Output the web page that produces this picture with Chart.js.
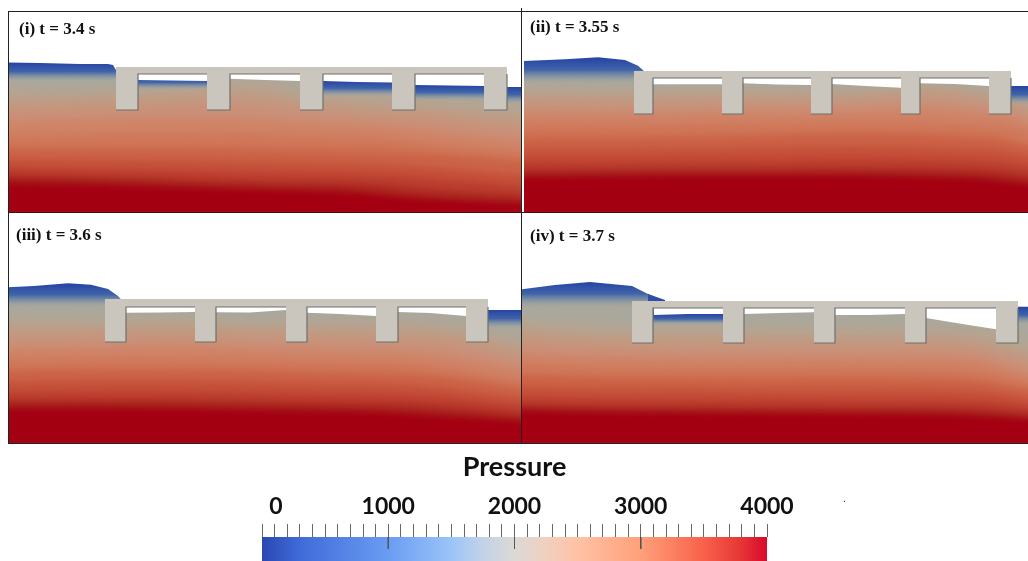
<!DOCTYPE html>
<html>
<head>
<meta charset="utf-8">
<script src="https://cdn.jsdelivr.net/npm/chart.js@4"></script>
<style>
  html, body { margin: 0; background: #fff; }
  body { position: relative; width: 1028px; height: 561px; overflow: hidden; }
  canvas, .rule, .label { position: absolute; }
  .rule { background: #222; }
  .label { font: bold 17px "Liberation Serif", serif; color: #111; white-space: nowrap; }
</style>
</head>
<body>
<canvas id="p1" style="left:8px;top:12px" width="513" height="200"></canvas>
<canvas id="p2" style="left:524px;top:12px" width="504" height="200"></canvas>
<canvas id="p3" style="left:8px;top:213px" width="513" height="230"></canvas>
<canvas id="p4" style="left:522px;top:213px" width="506" height="230"></canvas>
<canvas id="bar" style="left:0;top:450px" width="1028" height="111"></canvas>
<div class="rule" style="left:8px;top:11px;width:1020px;height:1px"></div>
<div class="rule" style="left:8px;top:11px;width:1px;height:432px"></div>
<div class="rule" style="left:521px;top:8px;width:1px;height:435px"></div>
<div class="rule" style="left:8px;top:212px;width:1020px;height:1px;background:#4a0a10"></div>
<div class="rule" style="left:8px;top:443px;width:1020px;height:1px"></div>
<div class="label" style="left:19px;top:19px">(i) t = 3.4 s</div>
<div class="label" style="left:530px;top:17px">(ii) t = 3.55 s</div>
<div class="label" style="left:16px;top:225px">(iii) t = 3.6 s</div>
<div class="label" style="left:530px;top:226px">(iv) t = 3.7 s</div>
<div class="label" style="left:843px;top:493px;font:10px 'Liberation Sans'">.</div>
<script>
// colour of each pressure contour, top of the water to the bed
const levelColors = ["#aaa89c", "#b5a492", "#c19a82", "#ca9078", "#cf8468", "#d0785a",
  "#cb6347", "#c5503a", "#bb3e2f", "#ad2a22", "#a51518", "#a30012"];

// (i) t = 3.4 s
const p1Stations = [-12, 92, 176, 260, 344, 428, 541];
const p1Contours = [
  [76, 80, 76, 72, 88, 98, 105], [88, 90, 84, 80, 100, 108, 118],
  [100, 98, 94, 92, 112, 118, 130], [112, 108, 105, 105, 120, 130, 142],
  [124, 120, 118, 120, 130, 142, 152], [137, 135, 134, 135, 143, 152, 162],
  [150, 150, 150, 152, 158, 167, 176], [160, 161, 162, 165, 171, 178, 187],
  [168, 170, 172, 176, 181, 189, 196], [175, 177, 180, 184, 189, 197, 202],
  [180, 182, 185, 189, 194, 201, 206], [184, 186, 189, 193, 198, 204, 209]];
const p1SurfaceX = [8, 40, 80, 108, 113, 116, 125, 138, 172, 207, 218, 230, 265, 300, 311, 323, 357, 392, 403, 415, 450, 484, 495, 507, 521];
const p1SurfaceY = [62.5, 63, 64, 64, 65, 70, 80, 80, 80.5, 81, 79, 78.7, 80, 81, 81, 81, 82, 82.5, 85, 85, 85.5, 86, 87, 87, 87];
const p1PileLeft = [116, 207, 300, 392, 484];
const p1PileRight = [138, 230, 323, 415, 507];
const p1Deck = [67, 74, 110];
const p1BlueStart = [8, 138, 323, 415, 507];
const p1BlueEnd = [116, 207, 392, 484, 521];
const p1BlueTop = [63, 76, 81, 85, 87];
const p1BlueBottom = [82, 90, 97, 101, 104];

// (ii) t = 3.55 s
const p2Stations = [504, 608, 692, 776, 860, 944, 1048];
const p2Contours = [
  [78, 84, 84, 84, 84, 74, 100], [88, 90, 90, 90, 90, 84, 112],
  [98, 100, 98, 98, 96, 90, 120], [108, 110, 108, 106, 104, 100, 128],
  [120, 118, 115, 114, 112, 110, 136], [132, 128, 126, 124, 122, 125, 150],
  [146, 142, 140, 136, 134, 138, 160], [158, 155, 153, 150, 148, 152, 170],
  [167, 165, 164, 162, 161, 164, 178], [174, 172, 171, 170, 170, 172, 184],
  [178, 176, 175, 175, 175, 178, 188], [181, 179, 178, 178, 178, 182, 192]];
const p2SurfaceX = [524, 565, 598, 625, 638, 644, 648, 653, 722, 732, 743, 777, 811, 821, 832, 866, 901, 910, 920, 955, 989, 1000, 1011, 1028];
const p2SurfaceY = [61, 59.3, 57.3, 60, 65.7, 71, 84, 84.3, 84.3, 83.3, 83.3, 84.5, 85, 84, 84, 86, 87.7, 83.3, 83.3, 84, 86, 86, 86, 86];
const p2PileLeft = [634, 722, 811, 901, 989];
const p2PileRight = [653, 743, 832, 920, 1011];
const p2Deck = [71, 78, 114];
const p2BlueStart = [524, 1011];
const p2BlueEnd = [644, 1028];
const p2BlueTop = [58, 86];
const p2BlueBottom = [84, 105];

// (iii) t = 3.6 s
const p3Stations = [-12, 92, 176, 260, 344, 428, 541];
const p3Contours = [
  [305, 312, 312, 318, 314, 318, 342], [316, 318, 318, 322, 322, 328, 352],
  [328, 328, 326, 330, 332, 340, 362], [340, 338, 336, 340, 342, 352, 372],
  [350, 348, 346, 350, 354, 364, 382], [360, 358, 358, 360, 366, 374, 390],
  [372, 370, 370, 372, 378, 386, 400], [385, 382, 382, 384, 390, 396, 408],
  [395, 393, 393, 395, 400, 405, 415], [402, 401, 401, 403, 407, 412, 420],
  [407, 406, 407, 409, 412, 417, 424], [410, 410, 411, 413, 416, 421, 427]];
const p3SurfaceX = [8, 34, 68, 91, 108, 118, 121, 125, 126, 160, 195, 205, 216, 250, 286, 296, 307, 340, 376, 387, 398, 430, 466, 477, 488, 521];
const p3SurfaceY = [287.3, 286, 283.3, 284.7, 289, 296, 299.3, 312, 312.7, 312.5, 312, 312.3, 312.3, 312.6, 310, 312, 312.7, 314, 316, 312, 312, 313, 316, 312, 310, 310];
const p3PileLeft = [105, 195, 286, 376, 466];
const p3PileRight = [126, 216, 307, 398, 488];
const p3Deck = [299, 307, 342];
const p3BlueStart = [8, 488];
const p3BlueEnd = [121, 521];
const p3BlueTop = [284, 310];
const p3BlueBottom = [308, 329];

// (iv) t = 3.7 s
const p4Stations = [502, 606, 690, 774, 858, 942, 1048];
const p4Contours = [
  [305, 318, 320, 322, 322, 320, 345], [316, 326, 328, 330, 330, 332, 358],
  [328, 338, 338, 340, 340, 342, 368], [340, 348, 350, 350, 350, 352, 378],
  [352, 358, 360, 360, 360, 362, 385], [362, 368, 370, 370, 370, 374, 392],
  [375, 380, 382, 382, 382, 385, 400], [388, 392, 392, 394, 394, 396, 408],
  [398, 401, 402, 403, 404, 405, 414], [405, 408, 409, 410, 411, 412, 419],
  [409, 412, 413, 414, 415, 416, 422], [412, 415, 416, 417, 418, 420, 425]];
const p4SurfaceX = [522, 555, 590, 632, 640, 648, 653, 654, 688, 723, 733, 744, 779, 814, 824, 835, 870, 905, 915, 926, 950, 975, 996, 1007, 1018, 1028];
const p4SurfaceY = [289.3, 285, 282, 286, 290, 294, 296, 315, 314, 314, 314, 314, 313, 312.3, 315, 315, 315, 314, 318, 318, 322, 326, 329.3, 306.7, 306.7, 306.7];
const p4TipX = [648, 665];
const p4TipY = [294, 300];
const p4PileLeft = [632, 723, 814, 905, 996];
const p4PileRight = [653, 744, 835, 926, 1018];
const p4Deck = [301, 308, 343];
const p4BlueStart = [522, 653, 1018];
const p4BlueEnd = [653, 723, 1028];
const p4BlueTop = [282, 314, 307];
const p4BlueBottom = [308, 325, 325];

// colour bar
const barMin = 0;
const barMax = 4000;
const barTickStep = 100;
const barLabelStep = 1000;
const barLongTicks = [1000, 2000, 3000];
const barStops = [0, 300, 1000, 1500, 1750, 2000, 2250, 2500, 3000, 3500, 3800, 4000];
const barColors = ["#2b47b3", "#3f6bd8", "#6a9cf3", "#9cc4f8", "#c3d2e8", "#dcd9d6",
  "#f0d0c0", "#ffc2a5", "#ffa07a", "#f8614a", "#e53535", "#d9082a"];

const toPoints = (xs, ys) => xs.map((x, i) => ({ x, y: ys[i] }));
const line = { pointRadius: 0, borderWidth: 0, showLine: true };

function bandFill(c, colorTop, colorBottom, topValue, bottomValue) {
  const { chart } = c;
  if (!chart.chartArea) return colorBottom;
  const y = chart.scales.y;
  const g = chart.ctx.createLinearGradient(0, y.getPixelForValue(topValue), 0, y.getPixelForValue(bottomValue));
  g.addColorStop(0, colorTop);
  g.addColorStop(1, colorBottom);
  return g;
}

function blueFill(c, topValue, bottomValue) {
  const { chart } = c;
  if (!chart.chartArea) return "#2849a3";
  const y = chart.scales.y;
  const g = chart.ctx.createLinearGradient(0, y.getPixelForValue(topValue), 0, y.getPixelForValue(bottomValue));
  g.addColorStop(0, "rgba(38,68,165,1)");
  g.addColorStop(0.45, "rgba(58,96,170,0.95)");
  g.addColorStop(0.75, "rgba(125,145,165,0.65)");
  g.addColorStop(1, "rgba(168,167,158,0)");
  return g;
}

// blur the contour bands only, so they melt into each other like the rendered field
const softBands = {
  id: "softBands",
  beforeDatasetsDraw(chart) {
    chart.ctx.filter = "blur(3px)";
  },
  afterDatasetDraw(chart, args) {
    if (chart.data.datasets[args.index].lastBand) chart.ctx.filter = "none";
  },
};

function drawPanel(id, p) {
  const datasets = [];
  // water below the first contour, its top is cut by the air mask further down
  const ends = [p.stations[0], p.stations[p.stations.length - 1]];
  datasets.push({ ...line, data: toPoints(ends, [p.yMin, p.yMin]), fill: "start", backgroundColor: levelColors[0] });
  // contour bands, painted from the top of the water down to the bed
  p.contours.forEach((ys, k) => {
    const next = p.contours[k + 1] || ys.map((v) => v + 30);
    const mean = (a) => a.reduce((s, v) => s + v, 0) / a.length;
    const top = mean(ys);
    const bottom = mean(next);
    datasets.push({
      ...line,
      data: toPoints(p.stations, ys),
      tension: 0.4,
      fill: "start", // "start" is the pixel bottom, the axis is reversed
      lastBand: k === p.contours.length - 1,
      backgroundColor: (c) => bandFill(c, levelColors[k], levelColors[k + 1] || levelColors[k], top, bottom),
    });
  });
  // blue skin of the surface in the open stretches
  p.blueStart.forEach((x0, k) => {
    datasets.push({
      ...line,
      data: toPoints([x0, p.blueEnd[k]], [p.blueBottom[k], p.blueBottom[k]]),
      fill: "end",
      backgroundColor: (c) => blueFill(c, p.blueTop[k], p.blueBottom[k]),
    });
  });
  // air above the free surface
  datasets.push({ ...line, data: toPoints(p.surfaceX, p.surfaceY), fill: "end", backgroundColor: "#fff" });
  if (p.tipX) {
    datasets.push({ ...line, data: toPoints(p.tipX, p.tipY), fill: { value: p.deck[0] }, backgroundColor: "#2e4ea5" });
  }
  // deck and piles
  const [deckTop, deckUnder, pileBottom] = p.deck;
  datasets.push({
    ...line,
    data: toPoints([p.pileLeft[0], p.pileRight[p.pileRight.length - 1]], [deckUnder, deckUnder]),
    fill: { value: deckTop },
    backgroundColor: "#cbc6bd",
  });
  const edges = [];
  p.pileLeft.forEach((x0, k) => {
    datasets.push({
      ...line,
      data: toPoints([x0, p.pileRight[k]], [pileBottom, pileBottom]),
      fill: { value: deckUnder },
      backgroundColor: "#cbc6bd",
    });
    edges.push({ x: x0, y: pileBottom }, { x: p.pileRight[k], y: pileBottom }, { x: p.pileRight[k], y: deckUnder });
    if (p.pileLeft[k + 1]) edges.push({ x: p.pileLeft[k + 1], y: deckUnder }, { x: p.pileLeft[k + 1], y: null });
  });
  datasets.push({ pointRadius: 0, showLine: true, data: edges, borderColor: "#6f6f6b", borderWidth: 1.2, fill: false });

  datasets.reverse();
  new Chart(document.getElementById(id), {
    type: "scatter",
    data: { datasets },
    plugins: [softBands],
    options: {
      responsive: false,
      animation: false,
      layout: { padding: 0 },
      plugins: { legend: { display: false }, tooltip: { enabled: false }, title: { display: false } },
      scales: {
        x: { type: "linear", display: false, min: p.xMin, max: p.xMax },
        y: { type: "linear", display: false, reverse: true, min: p.yMin, max: p.yMax },
      },
    },
  });
}

drawPanel("p1", { stations: p1Stations, contours: p1Contours, surfaceX: p1SurfaceX, surfaceY: p1SurfaceY,
  pileLeft: p1PileLeft, pileRight: p1PileRight, deck: p1Deck, blueStart: p1BlueStart, blueEnd: p1BlueEnd,
  blueTop: p1BlueTop, blueBottom: p1BlueBottom, xMin: 8, xMax: 521, yMin: 12, yMax: 212 });
drawPanel("p2", { stations: p2Stations, contours: p2Contours, surfaceX: p2SurfaceX, surfaceY: p2SurfaceY,
  pileLeft: p2PileLeft, pileRight: p2PileRight, deck: p2Deck, blueStart: p2BlueStart, blueEnd: p2BlueEnd,
  blueTop: p2BlueTop, blueBottom: p2BlueBottom, xMin: 524, xMax: 1028, yMin: 12, yMax: 212 });
drawPanel("p3", { stations: p3Stations, contours: p3Contours, surfaceX: p3SurfaceX, surfaceY: p3SurfaceY,
  pileLeft: p3PileLeft, pileRight: p3PileRight, deck: p3Deck, blueStart: p3BlueStart, blueEnd: p3BlueEnd,
  blueTop: p3BlueTop, blueBottom: p3BlueBottom, xMin: 8, xMax: 521, yMin: 213, yMax: 443 });
drawPanel("p4", { stations: p4Stations, contours: p4Contours, surfaceX: p4SurfaceX, surfaceY: p4SurfaceY,
  tipX: p4TipX, tipY: p4TipY, pileLeft: p4PileLeft, pileRight: p4PileRight, deck: p4Deck, blueStart: p4BlueStart,
  blueEnd: p4BlueEnd, blueTop: p4BlueTop, blueBottom: p4BlueBottom, xMin: 522, xMax: 1028, yMin: 213, yMax: 443 });

// colour bar with its ruler
new Chart(document.getElementById("bar"), {
  type: "scatter",
  data: {
    datasets: [
      {
        pointRadius: 0, showLine: true, borderColor: "#555", borderWidth: 1, fill: false,
        data: barLongTicks.flatMap((v) => [{ x: v, y: 1 }, { x: v, y: 0.5 }, { x: v, y: null }]),
      },
      {
        ...line,
        data: [{ x: barMin, y: 1 }, { x: barMax, y: 1 }],
        fill: "start",
        backgroundColor: (c) => {
          const { chart } = c;
          if (!chart.chartArea) return barColors[0];
          const x = chart.scales.x;
          const g = chart.ctx.createLinearGradient(x.getPixelForValue(barMin), 0, x.getPixelForValue(barMax), 0);
          barStops.forEach((v, i) => g.addColorStop((v - barMin) / (barMax - barMin), barColors[i]));
          return g;
        },
      },
    ],
  },
  options: {
    responsive: false,
    animation: false,
    layout: { padding: { left: 262, right: 261, top: 1, bottom: 0 } },
    plugins: { legend: { display: false }, tooltip: { enabled: false } },
    scales: {
      x: {
        type: "linear",
        position: "top",
        min: barMin,
        max: barMax,
        // the layout caps a top axis at half the canvas, this one needs more
        afterFit: (axis) => { axis.height = 86; },
        border: { display: false },
        grid: { drawOnChartArea: false, tickLength: 13, tickColor: "#666", tickWidth: 1 },
        ticks: {
          stepSize: barTickStep,
          autoSkip: false,
          maxRotation: 0,
          padding: 4,
          color: "#111",
          font: { family: "Lato", size: 23, weight: "bold" },
          // the 0 sits a little right of its tick in the reference
          callback: (v) => (v === 0 ? "\u00a0\u00a0\u00a0\u00a0\u00a00" : v % barLabelStep === 0 ? String(v) : ""),
        },
        title: {
          display: true,
          text: "Pressure",
          color: "#111",
          font: { family: "Lato", size: 27, weight: "bold" },
          padding: { top: 0, bottom: 0 },
        },
      },
      y: { type: "linear", display: false, min: 0, max: 1 },
    },
  },
});
</script>
</body>
</html>
